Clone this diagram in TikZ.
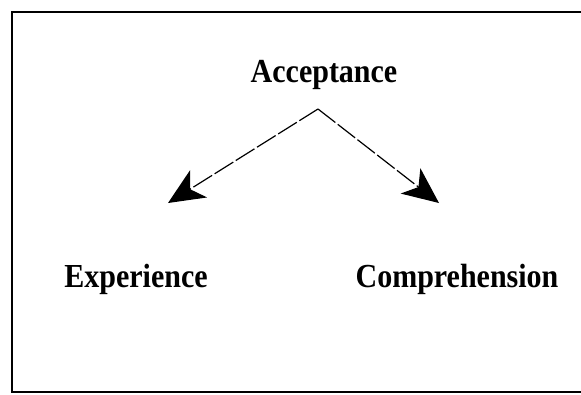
\documentclass[tikz,border=0pt]{standalone}
\usepackage{fontspec}
\setmainfont{Liberation Serif}
\usetikzlibrary{arrows.meta}

\tikzstyle{concept} = [inner sep=0pt,anchor=base,font=\fontsize{30}{34}\selectfont\bfseries,yscale=1.12,transform shape]
\tikzstyle{link} = [line width=1.2pt,dash pattern=on 22pt off 3pt,-{Stealth[length=36pt,width=32pt,inset=10pt]}]
\tikzstyle{frame} = [line width=2pt]

\begin{document}
\begin{tikzpicture}[x=1pt,y=-1pt]
	\useasboundingbox (0,0) rectangle (581,394);
	\draw[frame] (584,12) -- (12,12) -- (12,392) -- (584,392);
	\node[concept] (acc) at (324,82) {Acceptance};
	\node[concept] (exp) at (136,287) {Experience};
	\node[concept] (com) at (457,287) {Comprehension};
	\coordinate (fork) at (318,109);
	\coordinate (expin) at (168,203);
	\coordinate (comin) at (439,203);
	\draw[link] (fork) -- (expin);
	\draw[link] (fork) -- (comin);
\end{tikzpicture}
\end{document}
